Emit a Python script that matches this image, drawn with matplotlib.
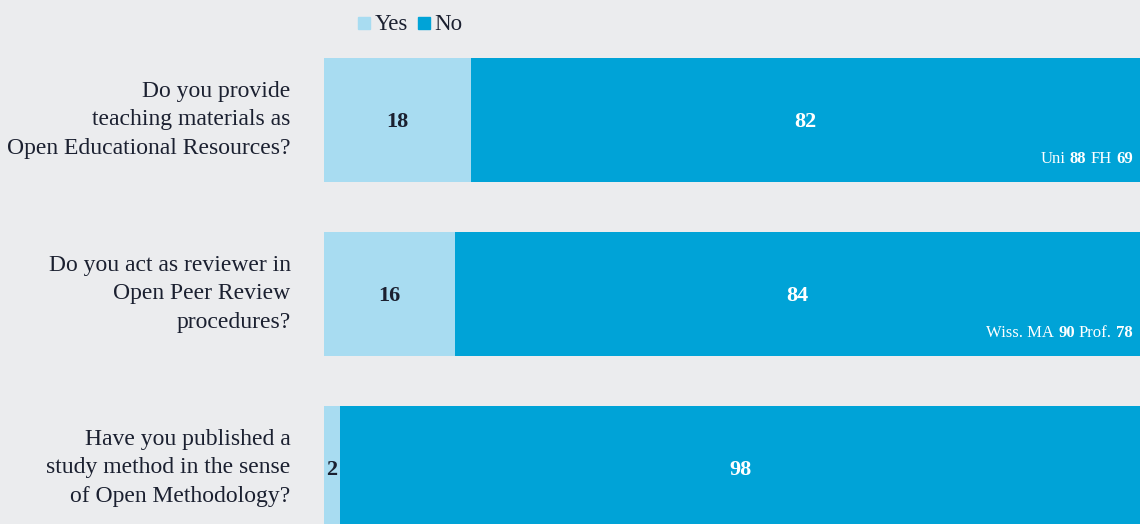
import matplotlib
matplotlib.use("Agg")
import matplotlib.pyplot as plt
from matplotlib.offsetbox import TextArea, HPacker, AnnotationBbox

questions = [
    "Do you provide\nteaching materials as\nOpen Educational Resources?",
    "Do you act as reviewer in\nOpen Peer Review\nprocedures?",
    "Have you published a\nstudy method in the sense\nof Open Methodology?",
]
yes_vals = [18, 16, 2]
no_vals = [82, 84, 98]
sub_labels = [["Uni", "FH"], ["Wiss. MA", "Prof."], []]
sub_vals = [[88, 69], [90, 78], []]

BG = "#ebecee"
YES_C = "#a8dcf1"
NO_C = "#00a3d7"
TXT = "#1b2030"
FONT = "Liberation Serif"

fig = plt.figure(figsize=(11.4, 5.24), dpi=100, facecolor=BG)
ax = fig.add_axes([324 / 1140, 0, 1 - 324 / 1140, 1])
ax.set_facecolor(BG)

ypos = list(range(len(questions)))
h = 124 / 174
ax.barh(ypos, yes_vals, height=h, color=YES_C, edgecolor="none")
ax.barh(ypos, no_vals, left=yes_vals, height=h, color=NO_C, edgecolor="none")

ax.set_xlim(0, 100)
ax.set_ylim((524 - 120) / 174, -120 / 174)
ax.axis("off")

for y, q, yv, nv, sl, sv in zip(ypos, questions, yes_vals, no_vals, sub_labels, sub_vals):
    ax.text(-4.1, y, q, ha="right", va="center", fontsize=17, family=FONT,
            color=TXT, linespacing=1.45)
    ax.text(yv / 2, y + 0.012, str(yv), ha="center", va="center", fontsize=16,
            family=FONT, fontweight="bold", color=TXT)
    ax.text(yv + nv / 2, y + 0.012, str(nv), ha="center", va="center", fontsize=16,
            family=FONT, fontweight="bold", color="white")
    if sl:
        parts = []
        for lab, val in zip(sl, sv):
            parts.append(TextArea(lab, textprops=dict(fontsize=12, family=FONT, color="white")))
            parts.append(TextArea(str(val), textprops=dict(fontsize=12, family=FONT,
                                                           fontweight="bold", color="white")))
        pack = HPacker(children=parts, pad=0, sep=3, align="baseline")
        ab = AnnotationBbox(pack, (99.1, y + 0.225), xycoords="data",
                            box_alignment=(1, 0.5), frameon=False, pad=0)
        ax.add_artist(ab)

# legend
ly = 1 - 30 / 524
fig.patches.append(plt.Rectangle((358 / 1140, 1 - 29 / 524), 12 / 1140, 12 / 524,
                                 transform=fig.transFigure, color=YES_C))
fig.text(375 / 1140, ly, "Yes", ha="left", va="baseline", fontsize=16.5, family=FONT, color=TXT)
fig.patches.append(plt.Rectangle((418 / 1140, 1 - 29 / 524), 12 / 1140, 12 / 524,
                                 transform=fig.transFigure, color=NO_C))
fig.text(434 / 1140, ly, "No", ha="left", va="baseline", fontsize=16.5, family=FONT, color=TXT)

fig.savefig("out.png", dpi=100, facecolor=BG)
